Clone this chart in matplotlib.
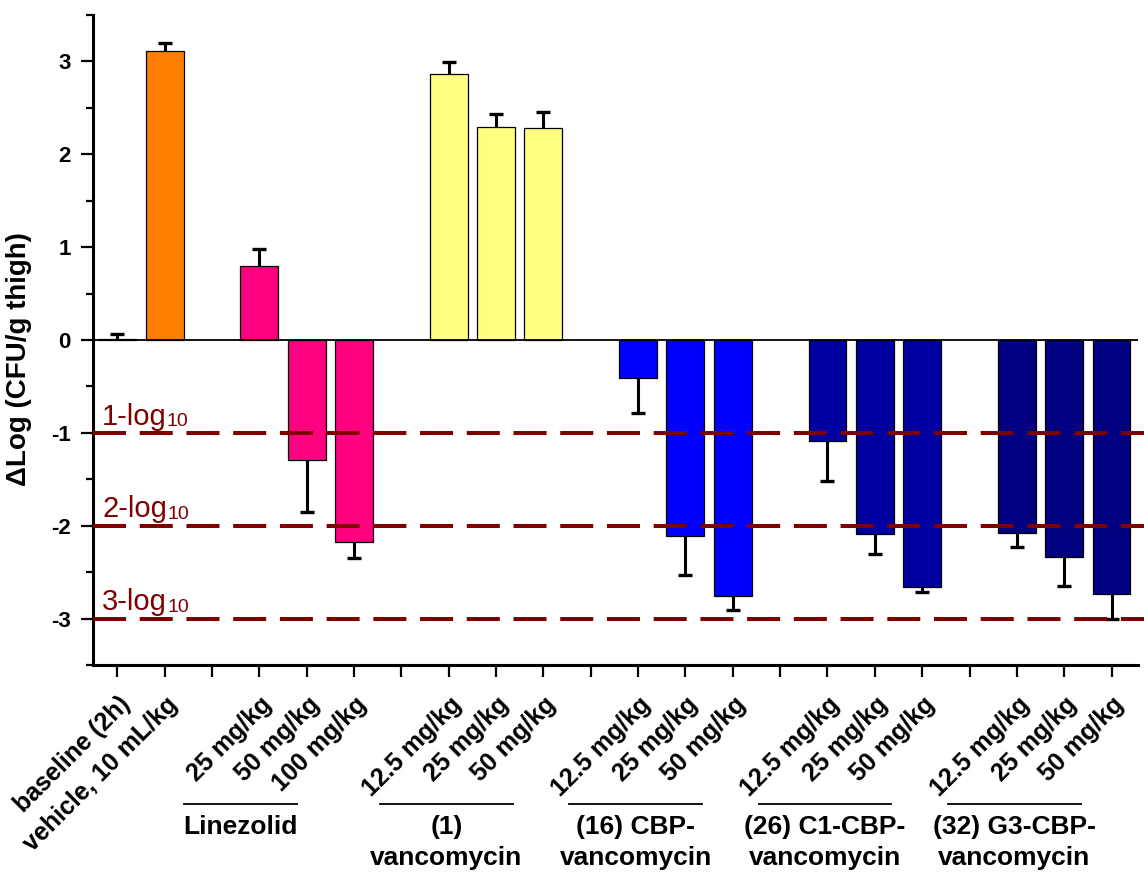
import numpy as np
import matplotlib
matplotlib.use('Agg')
import matplotlib.pyplot as plt
import matplotlib.transforms as mtransforms
from matplotlib.ticker import MultipleLocator

plt.rcParams['font.family'] = ['Liberation Sans', 'DejaVu Sans']
plt.rcParams['axes.unicode_minus'] = False

# les donnees
bar_labels = ['baseline (2h)', 'vehicle, 10 mL/kg',
              '25 mg/kg', '50 mg/kg', '100 mg/kg',
              '12.5 mg/kg', '25 mg/kg', '50 mg/kg',
              '12.5 mg/kg', '25 mg/kg', '50 mg/kg',
              '12.5 mg/kg', '25 mg/kg', '50 mg/kg',
              '12.5 mg/kg', '25 mg/kg', '50 mg/kg']
means = [0.01, 3.11,
         0.80, -1.29, -2.18,
         2.87, 2.29, 2.28,
         -0.41, -2.11, -2.76,
         -1.09, -2.09, -2.66,
         -2.08, -2.34, -2.74]
errors = [0.06, 0.09,
          0.18, 0.56, 0.17,
          0.12, 0.14, 0.18,
          0.38, 0.42, 0.15,
          0.43, 0.21, 0.05,
          0.15, 0.31, 0.26]
group_sizes = [2, 3, 3, 3, 3, 3]
group_names = ['', 'Linezolid', '(1)\nvancomycin', '(16) CBP-\nvancomycin',
               '(26) C1-CBP-\nvancomycin', '(32) G3-CBP-\nvancomycin']
group_colors = [['#FF8000', '#FF8000'], ['#FF0080'] * 3, ['#FFFF80'] * 3,
                ['#0000FF'] * 3, ['#0000A0'] * 3, ['#000080'] * 3]
log_levels = [1, 2, 3]
y_title = 'ΔLog (CFU/g thigh)'

# positions: un emplacement vide entre chaque groupe
x_pos = []
colors = []
group_first = []
slot = 0
for g, n in enumerate(group_sizes):
    group_first.append(slot)
    for k in range(n):
        x_pos.append(slot)
        colors.append(group_colors[g][k])
        slot += 1
    slot += 1
last_slot = x_pos[-1]

means = np.array(means)
errors = np.array(errors)
x_pos = np.array(x_pos)

fig = plt.figure(figsize=(11.44, 8.8), dpi=100)
ax = fig.add_axes([0.081, 0.2443, 0.9138, 0.7386])

ax.bar(x_pos, means, width=0.8, color=colors, edgecolor='black', linewidth=0.9, zorder=2)

# barres d'erreur d'un seul cote
lower = np.where(means < 0, errors, 0)
upper = np.where(means >= 0, errors, 0)
ax.errorbar(x_pos, means, yerr=[lower, upper], fmt='none', ecolor='black',
            elinewidth=2.2, capsize=0, zorder=2.5)
ends = np.where(means >= 0, means + errors, means - errors)
ax.plot(x_pos, ends, linestyle='none', marker='_', markersize=10,
        markeredgewidth=2.4, color='black', zorder=2.5)

ax.axhline(0, color='black', linewidth=1.3, zorder=2.6)

# lignes 1-log, 2-log, 3-log
for lv in log_levels:
    ax.axhline(-lv, xmin=0, xmax=1.006, color='#800000', linewidth=2.9,
               linestyle=(0, (8.2, 3.4)), zorder=3, clip_on=False)
    t = ax.text(-0.32, -lv + 0.09, f'{lv}-log', color='#800000', fontsize=21,
                fontweight='normal', ha='left', va='baseline', zorder=4)
    ax.annotate('10', xy=(1, 0.02), xycoords=t, color='#800000', fontsize=14,
                fontweight='normal', ha='left', va='bottom')

ax.set_xlim(-0.52, last_slot + 0.56)
ax.set_ylim(-3.5, 3.5)

ax.spines['top'].set_visible(False)
ax.spines['right'].set_visible(False)
ax.spines['left'].set_linewidth(2.2)
ax.spines['bottom'].set_linewidth(2.2)

ax.yaxis.set_major_locator(MultipleLocator(1))
ax.yaxis.set_minor_locator(MultipleLocator(0.5))
ax.tick_params(axis='y', which='major', direction='out', length=8.6, width=1.6,
               pad=7, labelsize=16)
ax.tick_params(axis='y', which='minor', direction='out', length=5, width=1.6)
for lab in ax.get_yticklabels():
    lab.set_fontweight('bold')

# ticks sur chaque emplacement, etiquettes seulement sous les barres
tick_labels = [''] * (last_slot + 1)
for xp, lab in zip(x_pos, bar_labels):
    tick_labels[xp] = lab
ax.set_xticks(range(last_slot + 1))
ax.set_xticklabels(tick_labels, rotation=45, ha='right', va='center',
                   rotation_mode='anchor', fontsize=18, fontweight='bold')
ax.tick_params(axis='x', direction='out', length=8.6, width=1.6, pad=17)
offset = mtransforms.ScaledTranslation(0.09, 0, fig.dpi_scale_trans)
for lab in ax.get_xticklabels():
    lab.set_transform(lab.get_transform() + offset)

ax.set_ylabel(y_title, fontsize=20, fontweight='bold')
ax.yaxis.set_label_coords(-0.058, 0.471)

# noms des groupes avec un trait au-dessus
trans = mtransforms.blended_transform_factory(ax.transData, fig.transFigure)
for g in range(1, len(group_sizes)):
    c = group_first[g] - 0.05
    half = 1.4
    if g == 1:
        c = group_first[g] - 0.4
        half = 1.2
    ax.plot([c - half, c + half], [0.0864, 0.0864], color='black', linewidth=1.3,
            transform=trans, clip_on=False)
    ax.text(c, 0.074, group_names[g], transform=trans, ha='center', va='top',
            fontsize=19, fontweight='bold', linespacing=1.35)

fig.savefig('out.png', dpi=100)
